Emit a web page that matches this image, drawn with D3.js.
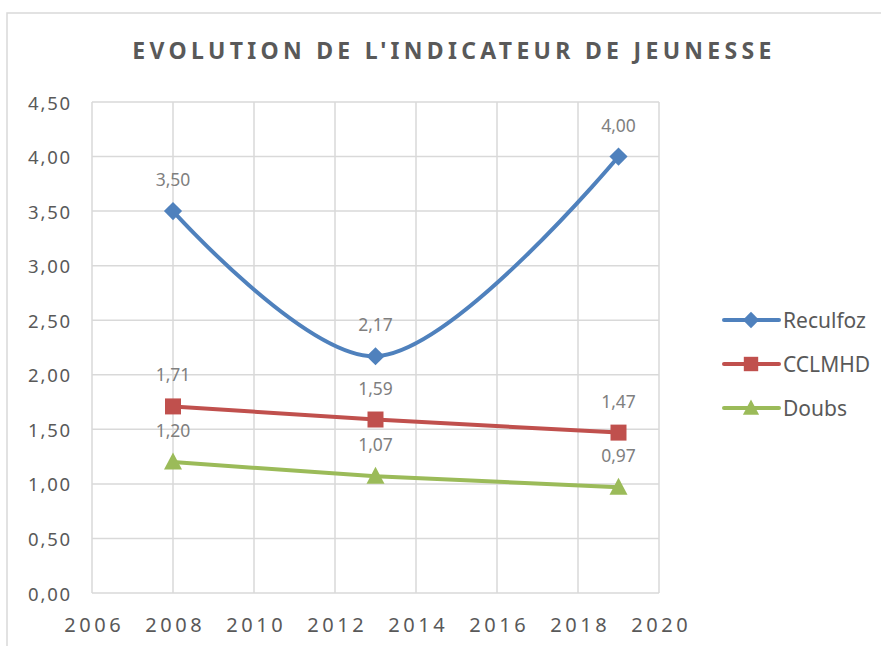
<!DOCTYPE html>
<html>
<head>
<meta charset="utf-8">
<script src="https://cdn.jsdelivr.net/npm/d3@7"></script>
<style>
  body { margin: 0; background: #fff; }
  svg { display: block; font-family: "Noto Sans", "Open Sans", sans-serif; }
</style>
</head>
<body>
<div id="chart"></div>
<script>
// donnees
const annees = [2008, 2013, 2019];
const reculfoz = [3.50, 2.17, 4.00];
const cclmhd = [1.71, 1.59, 1.47];
const doubs = [1.20, 1.07, 0.97];
const nomsSeries = ["Reculfoz", "CCLMHD", "Doubs"];
const ticksX = [2006, 2008, 2010, 2012, 2014, 2016, 2018, 2020];
const ticksY = [0, 0.5, 1, 1.5, 2, 2.5, 3, 3.5, 4, 4.5];

const width = 881, height = 646;
const margin = { top: 102, left: 92, right: 222, bottom: 53 };

const svg = d3.select("#chart").append("svg")
    .attr("width", width)
    .attr("height", height);

// cadre du graphique
svg.append("rect")
    .attr("x", 7).attr("y", 13)
    .attr("width", width + 20).attr("height", height + 20)
    .attr("fill", "none")
    .attr("stroke", "#d9d9d9")
    .attr("stroke-width", 1.5);

const x = d3.scaleLinear().domain([2006, 2020]).range([margin.left, width - margin.right]);
const y = d3.scaleLinear().domain([0, 4.5]).range([height - margin.bottom, margin.top]);

const fmt = v => d3.format(".2f")(v).replace(".", ",");

// titre
svg.append("text")
    .attr("x", 454).attr("y", 59)
    .attr("text-anchor", "middle")
    .attr("fill", "#595959")
    .attr("font-size", 23)
    .attr("font-weight", "bold")
    .attr("letter-spacing", 4.3)
    .text("EVOLUTION DE L'INDICATEUR DE JEUNESSE");

// grille
const grille = svg.append("g").attr("stroke", "#d9d9d9").attr("stroke-width", 1.5);
grille.selectAll("line.h").data(ticksY).join("line")
    .attr("class", "h")
    .attr("x1", x(2006)).attr("x2", x(2020))
    .attr("y1", d => y(d)).attr("y2", d => y(d));
grille.selectAll("line.v").data(ticksX).join("line")
    .attr("class", "v")
    .attr("x1", d => x(d)).attr("x2", d => x(d))
    .attr("y1", y(0)).attr("y2", y(4.5));

// axe Y
const axeY = svg.append("g")
    .attr("transform", `translate(${x(2006)},0)`)
    .call(d3.axisLeft(y).tickValues(ticksY).tickFormat(fmt).tickSize(0).tickPadding(20));
axeY.select(".domain").remove();
axeY.selectAll("text")
    .attr("fill", "#595959").attr("font-size", 18.5)
    .attr("font-family", "Noto Sans").attr("letter-spacing", 1.8)
    .attr("dy", "0.38em");

// axe X
const axeX = svg.append("g")
    .attr("transform", `translate(0,${y(0)})`)
    .call(d3.axisBottom(x).tickValues(ticksX).tickFormat(d3.format("d")).tickSize(0).tickPadding(25));
axeX.select(".domain").remove();
axeX.selectAll("text")
    .attr("fill", "#595959").attr("font-size", 20)
    .attr("font-family", "Noto Sans").attr("letter-spacing", 3.6)
    .attr("dx", 1.8);

// formes des marqueurs
const diamant = d3.symbol().type(d3.symbolSquare).size(165)();
const carre = d3.symbol().type(d3.symbolSquare).size(256)();
const triangle = "M0,-9.5L9,7.5L-9,7.5Z";

const series = [
    { nom: nomsSeries[0], valeurs: reculfoz, couleur: "#4f81bd", forme: diamant, rot: 45, courbe: d3.curveCatmullRom.alpha(0.5) },
    { nom: nomsSeries[1], valeurs: cclmhd, couleur: "#c0504d", forme: carre, rot: 0, courbe: d3.curveLinear },
    { nom: nomsSeries[2], valeurs: doubs, couleur: "#9bbb59", forme: triangle, rot: 0, courbe: d3.curveLinear }
];

series.forEach(s => {
    const pts = annees.map((a, i) => [a, s.valeurs[i]]);
    const ligne = d3.line().x(d => x(d[0])).y(d => y(d[1])).curve(s.courbe);
    svg.append("path")
        .attr("d", ligne(pts))
        .attr("fill", "none")
        .attr("stroke", s.couleur)
        .attr("stroke-width", 4)
        .attr("stroke-linecap", "round");
    svg.append("g").selectAll("path").data(pts).join("path")
        .attr("d", s.forme)
        .attr("transform", d => `translate(${x(d[0])},${y(d[1])}) rotate(${s.rot})`)
        .attr("fill", s.couleur);
    svg.append("g").selectAll("text").data(pts).join("text")
        .attr("x", d => x(d[0]))
        .attr("y", d => y(d[1]) - 25)
        .attr("text-anchor", "middle")
        .attr("fill", "#7f7f7f")
        .attr("font-size", 17.5)
        .text(d => fmt(d[1]));
});

// legende
const legende = svg.append("g").attr("transform", "translate(724,320)");
series.forEach((s, i) => {
    const g = legende.append("g").attr("transform", `translate(0,${i * 44})`);
    g.append("line").attr("x1", 0).attr("x2", 55)
        .attr("stroke", s.couleur).attr("stroke-width", 4).attr("stroke-linecap", "round");
    g.append("path").attr("d", s.forme)
        .attr("transform", `translate(27,0) rotate(${s.rot}) scale(0.9)`).attr("fill", s.couleur);
    g.append("text").attr("x", 59).attr("y", 7.5)
        .attr("fill", "#595959").attr("font-size", 21)
        .text(s.nom);
});
</script>
</body>
</html>
